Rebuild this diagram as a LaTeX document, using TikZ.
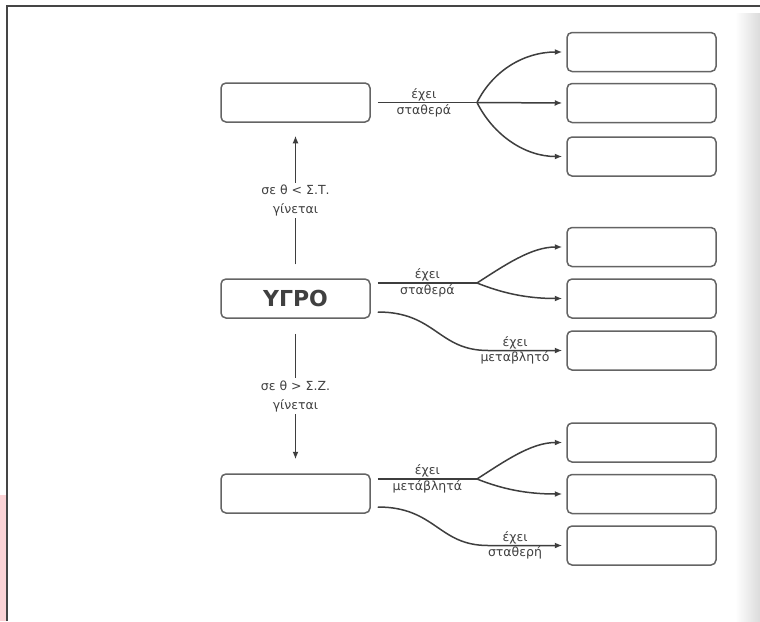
\documentclass[tikz,border=0pt]{standalone}
\usepackage{fontspec}
\setmainfont{DejaVu Sans}
\usetikzlibrary{arrows.meta,calc}
\definecolor{ln}{HTML}{3E3E3E}
\definecolor{bx}{HTML}{646464}
\definecolor{tx}{HTML}{404040}
\definecolor{frame}{HTML}{454545}
\definecolor{pinkish}{HTML}{FBD3D6}
\tikzset{
  box/.style={draw=bx, line width=1.5pt, rounded corners=5pt, minimum width=149pt, minimum height=39pt, inner sep=0pt, fill=white},
  conn/.style={draw=ln, line width=1.5pt},
  arr/.style={conn, -{Latex[length=7.5pt,width=6pt]}},
  lbl/.style={text=tx, font=\fontsize{12.5}{19}\selectfont, inner sep=1pt},
  vlbl/.style={lbl, fill=white, align=center, inner sep=2pt},
}
\begin{document}
\begin{tikzpicture}[x=1pt,y=-1pt]
\useasboundingbox (0,0) rectangle (760,621);
\fill[white] (0,0) rectangle (760,621);
% page artefacts
\shade[left color=white, right color=black!14] (735,13) rectangle (760,621);
\fill[pinkish] (0,495) rectangle (5.5,621);
\draw[frame, line width=2pt] (6.5,621) -- (6.5,5.5) -- (760,5.5);

% left column
\node[box] (T) at (295.5,102.5) {};
\node[box] (M) at (295.5,298.5) {\fontsize{22}{22}\selectfont\bfseries\color{tx}ΥΓΡΟ};
\node[box] (B) at (295.5,493.5) {};

% right column
\node[box] (R1) at (641.5,52) {};
\node[box] (R2) at (641.5,103) {};
\node[box] (R3) at (641.5,156.5) {};
\node[box] (R4) at (641.5,247) {};
\node[box] (R5) at (641.5,298.5) {};
\node[box] (R6) at (641.5,350.5) {};
\node[box] (R7) at (641.5,442.5) {};
\node[box] (R8) at (641.5,494) {};
\node[box] (R9) at (641.5,545.5) {};

% vertical arrows
\draw[arr, shorten <=14pt, shorten >=13pt] (M.north) -- node[vlbl] (lu) {σε θ < Σ.Τ.\\γίνεται} (T.south);
\draw[arr, shorten <=15pt, shorten >=14pt] (M.south) -- node[vlbl] (ld) {σε θ > Σ.Ζ.\\γίνεται} (B.north);

% top group
\coordinate (bt) at (477,102.5);
\draw[conn, shorten <=7pt] (T.east) -- node[lbl, above] (t1) {έχει} node[lbl, below] (t2) {σταθερά} (bt);
\draw[arr, shorten >=4pt] (bt) .. controls +(16,-32) and +(-42,0) .. (R1.west);
\draw[arr, shorten >=4pt] (bt) -- (R2.west);
\draw[arr, shorten >=4pt] (bt) .. controls +(16,32) and +(-42,0) .. (R3.west);

% middle group
\coordinate (ma) at ($(M.east)+(7,-15.5)$);
\coordinate (mb) at ($(M.east)+(7,13.5)$);
\coordinate (bm) at (477,283);
\coordinate (mf) at (488,350.5);
\draw[conn] (ma) -- node[lbl, above] (m1) {έχει} node[lbl, below] (m2) {σταθερά} (bm);
\draw[arr, shorten >=4pt] (bm) .. controls +(28,-18) and +(-35,0) .. (R4.west);
\draw[arr, shorten >=4pt] (bm) .. controls +(25,10) and +(-40,0) .. (R5.west);
\draw[arr, shorten >=4pt] (mb) .. controls +(58,0) and +(-50,0) .. (mf) -- (R6.west);
\node[lbl, above] (m3) at (515,350.5) {έχει};
\node[lbl, below] (m4) at (515,350.5) {μεταβλητό};

% bottom group
\coordinate (ba) at ($(B.east)+(7,-14.5)$);
\coordinate (bb2) at ($(B.east)+(7,13.5)$);
\coordinate (bb) at (477,479);
\coordinate (bf) at (488,545.5);
\draw[conn] (ba) -- node[lbl, above] (b1) {έχει} node[lbl, below] (b2) {μετάβλητά} (bb);
\draw[arr, shorten >=4pt] (bb) .. controls +(28,-18) and +(-35,0) .. (R7.west);
\draw[arr, shorten >=4pt] (bb) .. controls +(25,10) and +(-40,0) .. (R8.west);
\draw[arr, shorten >=4pt] (bb2) .. controls +(58,0) and +(-50,0) .. (bf) -- (R9.west);
\node[lbl, above] (b3) at (515,545.5) {έχει};
\node[lbl, below] (b4) at (515,545.5) {σταθερή};
\end{tikzpicture}
\end{document}
